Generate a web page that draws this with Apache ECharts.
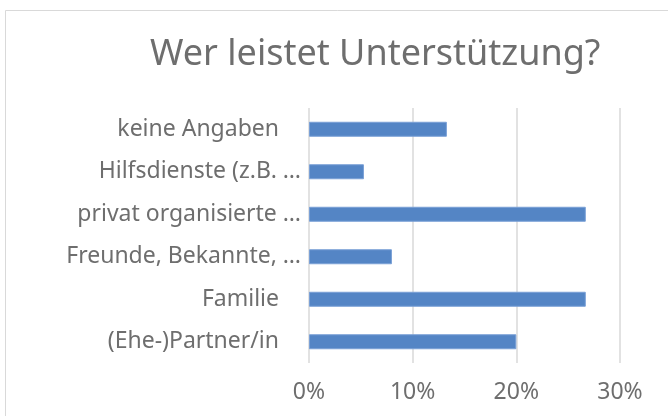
<!DOCTYPE html>
<html>
<head>
<meta charset="utf-8">
<script src="https://cdn.jsdelivr.net/npm/echarts@6/dist/echarts.min.js"></script>
<style>
  html, body { margin: 0; padding: 0; background: #fff; }
  #chart { width: 668px; height: 416px; }
</style>
</head>
<body>
<div id="chart"></div>
<script>
// categories bottom to top, as the chart draws them
var categories = ['(Ehe-)Partner/in', 'Familie', 'Freunde, Bekannte, …', 'privat organisierte …', 'Hilfsdienste (z.B. …', 'keine Angaben'];
var values = [0.200, 0.267, 0.080, 0.267, 0.053, 0.133];
var tickMax = 0.3;
var tickStep = 0.1;

var chart = echarts.init(document.getElementById('chart'));
var FONT = 'Noto Sans';
var GREY = '#6e6e6e';

chart.setOption({
  backgroundColor: '#ffffff',
  animation: false,
  title: {
    text: 'Wer leistet Unterstützung?',
    left: 145,
    top: 32,
    textStyle: { fontFamily: FONT, fontSize: 36, fontWeight: 'normal', color: GREY }
  },
  graphic: [{
    type: 'rect',
    shape: { x: 5.5, y: 10.5, width: 700, height: 500 },
    style: { fill: 'none', stroke: '#d9d9d9', lineWidth: 1 },
    silent: true
  }],
  grid: { left: 309, right: 48, top: 108, bottom: 53 },
  xAxis: {
    type: 'value',
    min: 0,
    max: tickMax,
    interval: tickStep,
    axisLine: { show: false },
    axisTick: { show: false },
    splitLine: { lineStyle: { color: '#d9d9d9', width: 1.5 } },
    axisLabel: {
      margin: 18,
      fontFamily: FONT, fontSize: 23, color: GREY,
      formatter: function (v) { return Math.round(v * 100) + '%'; }
    }
  },
  yAxis: {
    type: 'category',
    data: categories,
    axisLine: { show: false },
    axisTick: { show: false },
    axisLabel: {
      margin: 8,
      fontFamily: FONT, fontSize: 23, color: GREY,
      formatter: function (v) {
        return v.slice(-1) === '…' ? v : '{p|' + v + '}';
      },
      rich: { p: { fontFamily: FONT, fontSize: 23, color: GREY, padding: [0, 22, 0, 0] } }
    }
  },
  series: [{
    type: 'bar',
    data: values,
    barWidth: 15,
    itemStyle: { color: '#5485c5', borderColor: '#7aa0d6', borderWidth: 1 }
  }]
});
</script>
</body>
</html>
